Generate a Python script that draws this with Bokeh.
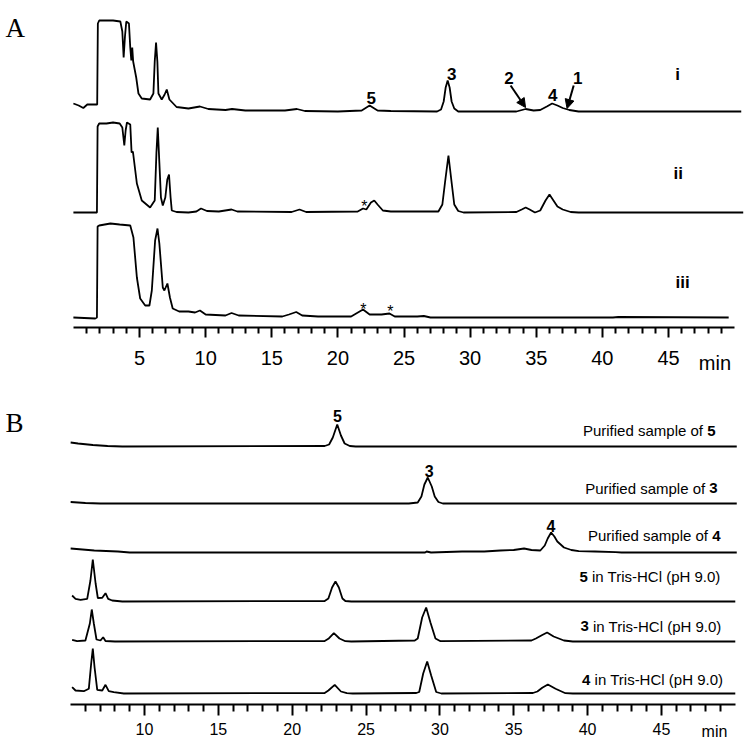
from bokeh.plotting import figure
from bokeh.layouts import column
from bokeh.models import Range1d, FixedTicker, Arrow, NormalHead
from bokeh.core.properties import value
from bokeh.embed import file_html
from bokeh.resources import INLINE

# ---------------- DATA (retention time in min, relative absorbance) ----------------
# Panel A
a_i_t = [0.0, 0.4, 0.75, 1.05, 1.65, 1.8, 1.85, 1.95, 2.5, 3.0, 3.55, 3.7, 3.8, 3.9, 4.0, 4.2, 4.3, 4.38,
         4.45, 4.52, 4.75, 4.92, 5.17, 5.8, 6.05, 6.15, 6.25, 6.35, 6.43, 6.68, 6.9, 7.06, 7.26, 7.8, 8.7,
         9.57, 10.2, 11.5, 12.0, 13.0, 16.0, 16.9, 17.5, 20.0, 21.8, 22.4, 23.0, 24.0, 27.5, 27.8, 28.0,
         28.15, 28.3, 28.45, 28.6, 28.8, 29.1, 33.5, 34.2, 34.8, 35.3, 35.8, 36.2, 36.6, 37.0, 37.5, 38.2, 50.5]
a_i_s = [8, 6, 3.5, 7, 7, 7, 88, 91, 91, 91, 90, 80, 54, 75, 90, 88, 64, 51,
         64, 50, 34, 18, 13, 12, 18, 50, 69, 50, 18, 12, 17, 22, 12, 4.5, 3,
         5, 2.5, 1.5, 2.5, 1, 1, 2.5, 0.5, 0, 1, 6, 1, 0.5, 0, 2, 10,
         24, 31, 24, 10, 3, 0, 0, 2.5, 1, 1.5, 5, 8, 6, 3.5, 1.5, 0, 0]

a_ii_t = [0.0, 1.78, 1.83, 1.95, 2.5, 3.0, 3.5, 3.7, 3.85, 3.95, 4.05, 4.3, 4.4, 4.5, 4.8, 5.17, 5.8,
          6.15, 6.28, 6.38, 6.5, 6.62, 6.76, 6.95, 7.1, 7.23, 7.35, 7.44, 7.8, 8.7, 9.3, 9.65, 10.1,
          11.0, 11.96, 12.4, 16.5, 17.1, 17.6, 21.5, 21.9, 22.15, 22.5, 22.75, 23.0, 23.4, 24.0, 27.6,
          27.9, 28.1, 28.36, 28.6, 28.8, 29.1, 29.5, 33.5, 33.9, 34.2, 34.5, 34.9, 35.3, 35.7, 36.0,
          36.3, 36.6, 37.0, 37.6, 38.2, 50.65]
a_ii_s = [0, 0, 86, 89, 89, 90, 89, 85, 67, 82, 90, 88, 60, 61, 29, 12, 5,
          12, 60, 85, 50, 15, 7, 15, 33, 38, 15, 2, 0.5, 0, 1, 4, 1.5,
          1, 3, 1, 0.5, 3, 0.5, 1, 4, 3, 10, 12, 8, 2, 1, 1,
          8, 30, 57, 30, 8, 1.5, 0, 0.5, 3, 5, 3, 0, 2, 12, 18,
          12, 6, 3, 0.5, 0, 0]

a_iii_t = [0.0, 1.65, 1.78, 1.83, 1.95, 2.8, 3.5, 4.3, 4.54, 4.8, 5.05, 5.43, 5.75, 5.93, 6.18, 6.36,
           6.5, 6.76, 6.88, 7.11, 7.3, 7.51, 8.0, 8.7, 9.2, 9.57, 10.0, 11.5, 11.96, 12.5, 15.8, 16.3,
           16.85, 17.3, 18.5, 21.0, 21.9, 22.4, 23.3, 23.9, 24.3, 26.0, 26.5, 27.0, 40.8, 41.2, 49.55]
a_iii_s = [0, -1, 0, 91, 92, 94, 93, 92, 80, 40, 19, 12, 12, 27, 77, 89,
           74, 30, 27, 34, 20, 9, 6, 6, 5, 7, 3, 2, 4.5, 2, 1, 3,
           5.5, 2, 1, 1, 8, 3, 3, 4, 1, 1, 1.5, 0, 0, 0.5, 0]

# Panel B
b1_t = [5.0, 5.5, 6.5, 7.5, 8.5, 22.2, 22.5, 22.75, 23.05, 23.3, 23.55, 23.9, 24.3, 50.1]
b1_s = [4, 3, 1.5, 0.5, 0, 0.5, 2, 9, 22, 11, 3, 0.5, 0, 0]

b2_t = [5.0, 6.0, 7.0, 27.9, 28.5, 28.75, 28.95, 29.18, 29.45, 29.65, 29.9, 30.2, 50.1]
b2_s = [1.5, 0.5, 0, 0, 1, 7, 19, 26, 17, 7, 1.5, 0, 0]

b3_t = [5.0, 5.8, 6.6, 8.2, 9.0, 29.0, 29.1, 29.4, 31.5, 33.0, 34.1, 35.0, 35.7, 36.2, 36.8, 37.1,
        37.3, 37.53, 37.75, 37.95, 38.4, 38.9, 39.4, 40.5, 41.9, 42.3, 50.1]
b3_s = [4, 3, 2, 1, 0, 0, 1, 0, 1, 1, 2, 2.5, 4, 2.5, 2, 7,
        14, 20, 16, 11, 5, 2.5, 1.3, 1, 0.3, 0, 0]

b4_t = [5.1, 5.33, 5.67, 6.12, 6.34, 6.5, 6.69, 6.84, 7.14, 7.36, 7.54, 7.81, 8.5, 22.2, 22.45, 22.7,
        22.93, 23.16, 23.4, 23.6, 24.0, 50.0]
b4_s = [6, 2.7, 1.7, 2.7, 21, 42, 18, 3.5, 3.7, 8.3, 2.7, 1, 0, 0.5, 3, 14,
        20, 14, 3, 0.5, 0, 0]

b5_t = [5.1, 5.44, 6.0, 6.3, 6.43, 6.57, 6.75, 7.02, 7.2, 7.36, 8.0, 22.2, 22.45, 22.82, 23.2, 23.6,
        24.0, 28.3, 28.5, 28.8, 29.07, 29.36, 29.7, 30.04, 36.2, 36.5, 36.93, 37.26, 37.7, 38.4, 39.0, 50.0]
b5_s = [1.7, 0.3, 1, 18, 32, 18, 2, 1, 4.3, 0.5, 0, 0.5, 2.7, 8.3, 3, 0.3,
        0, 1, 3, 24, 34, 19, 3, 0.3, 1, 3, 6.5, 9, 5, 1, 0, 0]

b6_t = [5.1, 5.33, 5.89, 6.23, 6.39, 6.5, 6.62, 6.8, 7.14, 7.36, 7.58, 7.92, 8.6, 22.2, 22.45, 22.88,
        23.3, 23.7, 24.1, 28.4, 28.6, 28.87, 29.14, 29.41, 29.75, 30.1, 36.3, 36.6, 36.93, 37.31, 37.83,
        38.5, 39.0, 50.0]
b6_s = [6.3, 3, 2.3, 4.7, 30, 45, 26, 3.7, 3, 8.7, 2.3, 1.3, 0, 0.5, 3, 8.7,
        2, 0.3, 0, 0.5, 1.5, 20, 32, 18, 1.5, 0, 0.5, 2, 5.7, 9, 4.7,
        0.3, 0, 0]

a_major_ticks = [5, 10, 15, 20, 25, 30, 35, 40, 45]
a_minor_ticks = [t for t in range(1, 50) if t % 5 != 0]
b_major_ticks = [10, 15, 20, 25, 30, 35, 40, 45]
b_minor_ticks = [t for t in range(6, 50) if t % 5 != 0]

# ---------------- LAYOUT CONSTANTS ----------------
A_OFFSETS = [216, 115, 10]
B_OFFSETS = [258, 201, 152, 103, 63, 11]
FONT = "Liberation Sans"
LW = 1.8


def style_axis(ax, major, minor, size, tick_out, minor_out, standoff, bounds):
    ax.ticker = FixedTicker(ticks=major, minor_ticks=minor)
    ax.bounds = bounds
    ax.fixed_location = 0
    ax.axis_line_width = 2
    ax.axis_line_color = "black"
    ax.major_tick_line_width = 2
    ax.minor_tick_line_width = 2
    ax.major_tick_in = 0
    ax.minor_tick_in = 0
    ax.major_tick_out = tick_out
    ax.minor_tick_out = minor_out
    ax.major_label_text_font = FONT
    ax.major_label_text_font_size = f"{size}px"
    ax.major_label_text_color = "black"
    ax.major_label_standoff = standoff


def txt(p, x, y, s, size, bold=False, align="center", xoff=0, font=FONT):
    p.text(x=[x], y=[y], text=[s], text_font=value(font), text_font_size=f"{size}px",
           text_font_style="bold" if bold else "normal", text_align=align,
           text_baseline="alphabetic", x_offset=xoff, text_color="black")


def make_fig(h, xr, yr):
    p = figure(width=750, height=h, x_range=Range1d(*xr), y_range=Range1d(*yr),
               output_backend="svg", toolbar_location=None, y_axis_location=None,
               min_border_left=0, min_border_right=0, min_border_top=0, min_border_bottom=0)
    p.outline_line_color = None
    p.xgrid.visible = False
    p.ygrid.visible = False
    return p


# ---------------- PANEL A ----------------
pA = make_fig(380, (-5.512, 51.20), (-53, 327))
style_axis(pA.xaxis[0], a_major_ticks, a_minor_ticks, 20, 10, 6, 13, (0, 50))

for (t, s), off in zip([(a_i_t, a_i_s), (a_ii_t, a_ii_s), (a_iii_t, a_iii_s)], A_OFFSETS):
    pA.line(t, [v + off for v in s], line_color="black", line_width=LW)

txt(pA, -5.13, 300, "A", 27, align="left", font="Liberation Serif")
for x, y, s in [(22.53, 230, "5"), (28.6, 254, "3"), (32.93, 250, "2"), (36.25, 233, "4"),
                (38.14, 250, "1"), (45.68, 253, "i"), (45.74, 154, "ii"), (46.06, 45, "iii")]:
    txt(pA, x, y, s, 17, bold=True)
for x, y in [(22.0, 121), (21.93, 18), (23.96, 16)]:
    txt(pA, x, y, "*", 16)

for xs, ys, xe, ye in [(33.06, 242, 34.19, 220), (37.83, 242, 37.33, 219)]:
    pA.add_layout(Arrow(end=NormalHead(size=9, fill_color="black", line_color="black", line_width=1),
                        x_start=xs, y_start=ys, x_end=xe, y_end=ye, line_width=2, line_color="black"))
txt(pA, 48.51, -35, "min", 20)

# ---------------- PANEL B ----------------
pB = make_fig(362, (0.2505, 51.03), (-38, 324))
style_axis(pB.xaxis[0], b_major_ticks, b_minor_ticks, 16, 11, 7, 7, (5, 50))

for (t, s), off in zip([(b1_t, b1_s), (b2_t, b2_s), (b3_t, b3_s), (b4_t, b4_s), (b5_t, b5_s), (b6_t, b6_s)],
                       B_OFFSETS):
    pB.line(t, [v + off for v in s], line_color="black", line_width=LW)

txt(pB, 0.589, 282, "B", 27, align="left", font="Liberation Serif")
for x, y, s in [(23.07, 289, "5"), (29.28, 234, "3"), (37.52, 179, "4")]:
    txt(pB, x, y, s, 16, bold=True)

LBL = 15
for xe, y, d in [(48.66, 274, "5"), (48.81, 216.5, "3"), (49.0, 169, "4")]:
    txt(pB, xe, y, d, LBL, bold=True, align="right")
    txt(pB, xe, y, "Purified sample of", LBL, align="right", xoff=-12.5)
for xs, y, d in [(39.45, 128, "5"), (39.52, 78.5, "3"), (39.63, 25, "4")]:
    txt(pB, xs, y, d, LBL, bold=True, align="left")
    txt(pB, xs, y, "in Tris-HCl (pH 9.0)", LBL, align="left", xoff=12.5)

txt(pB, 48.59, -27, "min", 16)

layout = column(pA, pB)
open("out.html", "w").write(file_html(layout, INLINE))
